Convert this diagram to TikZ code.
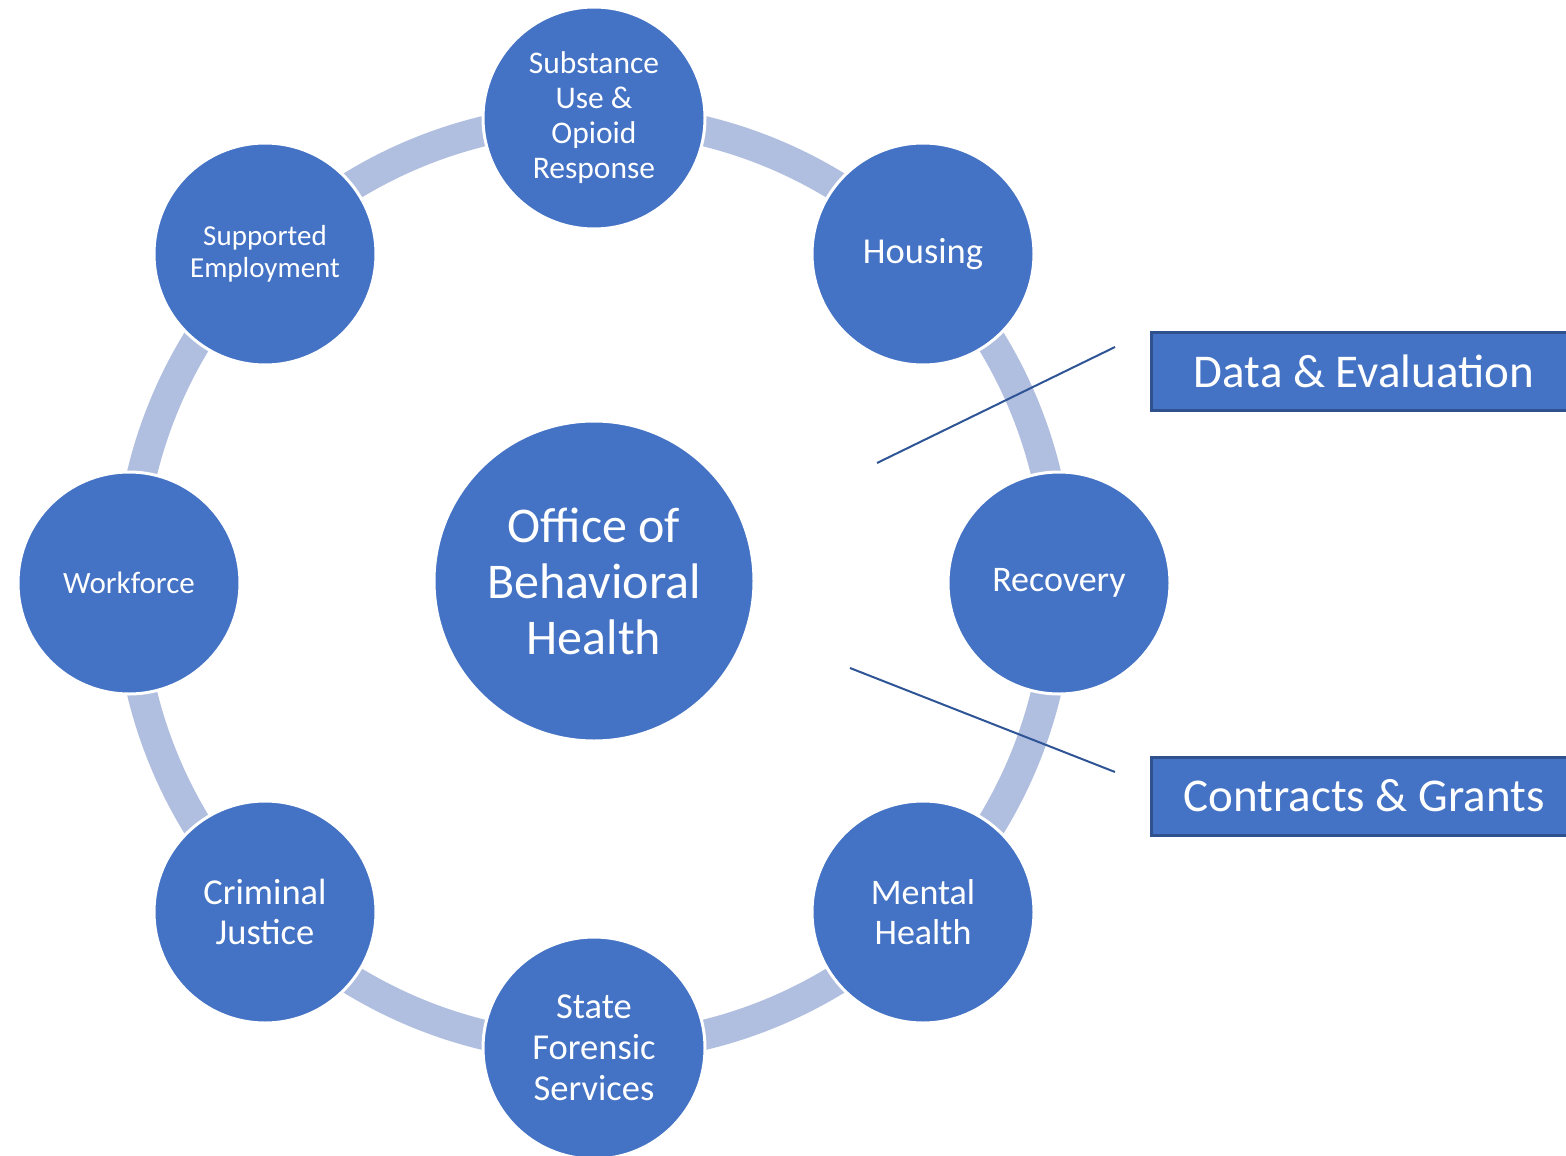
\documentclass[tikz,border=0pt]{standalone}
\usepackage{fontspec}
\setmainfont{Carlito}
\definecolor{nodeblue}{HTML}{4472C4}
\definecolor{ringblue}{HTML}{B0BEDF}
\definecolor{darkblue}{HTML}{2F528F}
\definecolor{lineblue}{HTML}{2F5597}
\begin{document}
\begin{tikzpicture}[x=1pt,y=-1pt,
  sat/.style={circle, fill=nodeblue, draw=white, line width=3pt, minimum size=222pt, inner sep=0pt, text=white, align=center},
  hub/.style={circle, fill=nodeblue, draw=white, line width=3pt, minimum size=320pt, inner sep=0pt, text=white, align=center, font=\fontsize{50}{56}\selectfont},
  sidebox/.style={rectangle, fill=nodeblue, draw=darkblue, line width=3pt, minimum width=425pt, minimum height=78pt, inner sep=0pt, anchor=west, text=white},
  pointer/.style={draw=lineblue, line width=2pt}]
\useasboundingbox (0,0) rectangle (1566,1156);
\fill[white] (0,0) rectangle (1566,1156);
% ring
\draw[ringblue, line width=30pt] (594,583) circle[radius=465];
% hub
\node[hub] (hub) at (594,581) {Office of\\Behavioral\\Health};
% satellites
\node[sat, font=\fontsize{31.5}{35}\selectfont] (sub) at (594,118) {Substance\\Use \&\\Opioid\\Response};
\node[sat, font=\fontsize{36.5}{40}\selectfont] (hous) at (923,254) {Housing};
\node[sat, font=\fontsize{36}{40}\selectfont] (rec) at (1059,583) {Recovery};
\node[sat, font=\fontsize{36}{40}\selectfont] (mh) at (923,912) {Mental\\Health};
\node[sat, font=\fontsize{36.5}{41}\selectfont] (sfs) at (594,1048) {State\\Forensic\\Services};
\node[sat, font=\fontsize{36.5}{40}\selectfont] (cj) at (265,912) {Criminal\\Justice};
\node[sat, font=\fontsize{31}{35}\selectfont] (wf) at (129,583) {Workforce};
\node[sat, font=\fontsize{29}{32}\selectfont] (se) at (265,254) {Supported\\Employment};
% side boxes
\node[sidebox, font=\fontsize{47}{52}\selectfont] (de) at (1150,371) {Data \& Evaluation};
\node[sidebox, font=\fontsize{47}{52}\selectfont] (cg) at (1150,796) {Contracts \& Grants};
% pointer lines
\coordinate (p1a) at (877,463);
\coordinate (p1b) at (1115,347);
\coordinate (p2a) at (850,668);
\coordinate (p2b) at (1115,772);
\draw[pointer] (p1a) -- (p1b);
\draw[pointer] (p2a) -- (p2b);
\end{tikzpicture}
\end{document}
